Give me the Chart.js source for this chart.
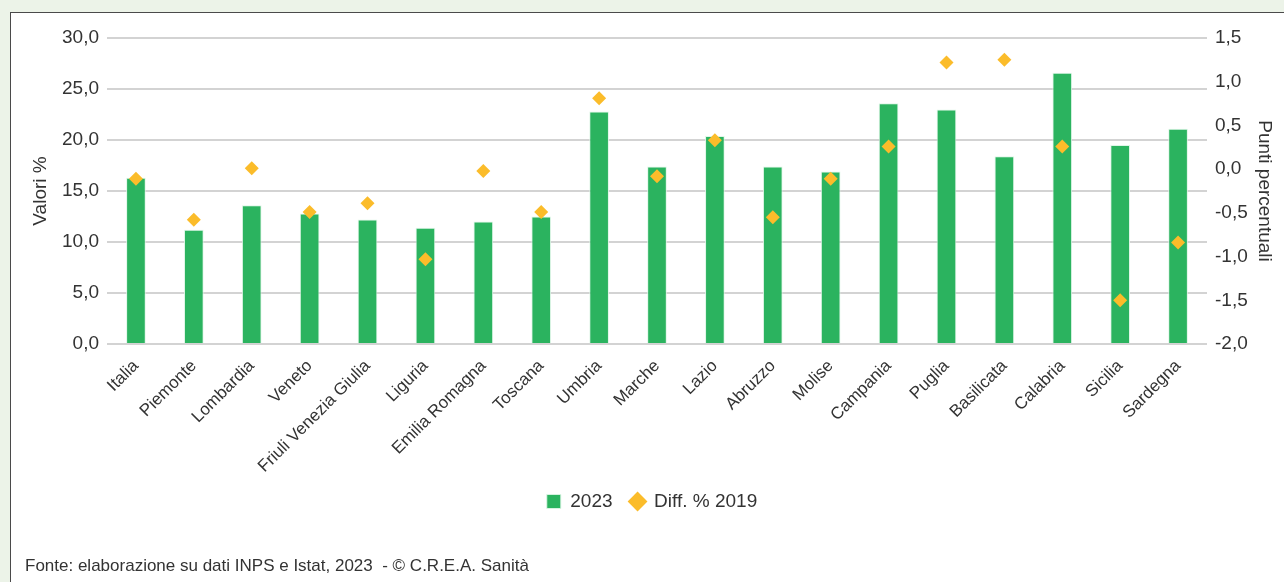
<!DOCTYPE html>
<html><head><meta charset="utf-8">
<script src="https://cdn.jsdelivr.net/npm/chart.js@4/dist/chart.umd.min.js"></script>
<style>
html,body{margin:0;padding:0;background:#ecf3e8;width:1284px;height:582px;overflow:hidden;}
#panel{position:absolute;left:10px;top:12px;width:1290px;height:600px;background:#fff;border:1px solid #4a4a4a;}
#c{position:absolute;left:0;top:0;}
#foot{position:absolute;left:25px;top:556px;font-family:"Liberation Sans",Arial,sans-serif;font-size:17px;color:#333;}
</style></head>
<body>
<div id="panel"></div>
<canvas id="c" width="1284" height="582"></canvas>
<div id="foot">Fonte: elaborazione su dati INPS e Istat, 2023&nbsp; - © C.R.E.A. Sanità</div>
<script>
const categories = ["Italia","Piemonte","Lombardia","Veneto","Friuli Venezia Giulia","Liguria","Emilia Romagna","Toscana","Umbria","Marche","Lazio","Abruzzo","Molise","Campania","Puglia","Basilicata","Calabria","Sicilia","Sardegna"];
const values2023 = [16.3,11.2,13.6,12.8,12.2,11.4,12.0,12.5,22.8,17.4,20.4,17.4,16.9,23.6,23.0,18.4,26.6,19.5,21.1];
const diff2019 = [-0.11,-0.58,0.01,-0.49,-0.39,-1.03,-0.02,-0.49,0.81,-0.08,0.33,-0.55,-0.11,0.26,1.22,1.25,0.26,-1.5,-0.84];
const leftTicks = [0,5,10,15,20,25,30];
const rightTicks = [-2,-1.5,-1,-0.5,0,0.5,1,1.5];

const FONT = "'Liberation Sans',Arial,sans-serif";
const fmt = v => Number(v).toFixed(1).replace('.', ',');
Chart.defaults.font.family = FONT;
Chart.defaults.color = '#333';

new Chart(document.getElementById('c'), {
  data: {
    labels: categories,
    datasets: [
      { type:'bar', label:'2023', data: values2023, backgroundColor:'#2bb35f', borderColor:'rgba(220,245,228,0.9)', borderWidth:1, yAxisID:'y', order:1, barPercentage:0.68, categoryPercentage:0.5, pointStyle:'rect' },
      { type:'line', label:'Diff. % 2019', data: diff2019, showLine:false, yAxisID:'y1', order:0, pointStyle:'rectRot', pointRadius:7, pointHoverRadius:7, backgroundColor:'#fbbc2a', borderColor:'#fbbc2a', borderWidth:0 }
    ]
  },
  options: {
    responsive:false, animation:false,
    layout:{ padding:{ left:20, right:0, top:38, bottom:61 } },
    plugins:{
      legend:{ position:'bottom', labels:{ usePointStyle:true, boxWidth:14, boxHeight:14, font:{size:19}, color:'#333', padding:18, sort:(a,b)=>a.datasetIndex-b.datasetIndex } },
      tooltip:{ enabled:false }
    },
    scales:{
      x:{ grid:{display:false}, border:{display:false},
          ticks:{ minRotation:45, maxRotation:45, autoSkip:false, font:{size:17}, color:'#333', padding:4 },
          afterFit: s => { s.height = 130; } },
      y:{ position:'left', min:0, max:30, border:{display:false},
          grid:{ color:'#d3d3d3', lineWidth:2, drawTicks:false },
          ticks:{ stepSize:5, callback:v=>fmt(v), font:{size:19}, color:'#333', padding:8 },
          title:{ display:true, text:'Valori %', font:{size:19}, color:'#333', padding:{top:9,bottom:0} },
          afterFit: s => { s.width = 87; } },
      y1:{ position:'right', min:-2, max:1.5, border:{display:false},
          grid:{ display:false, drawTicks:false },
          ticks:{ stepSize:0.5, callback:v=>fmt(v), font:{size:19}, color:'#333', padding:8 },
          title:{ display:true, text:'Punti percentuali', font:{size:19}, color:'#333', padding:{top:8,bottom:0} },
          afterFit: s => { s.width = 77; } }
    }
  }
});
</script>
</body></html>
